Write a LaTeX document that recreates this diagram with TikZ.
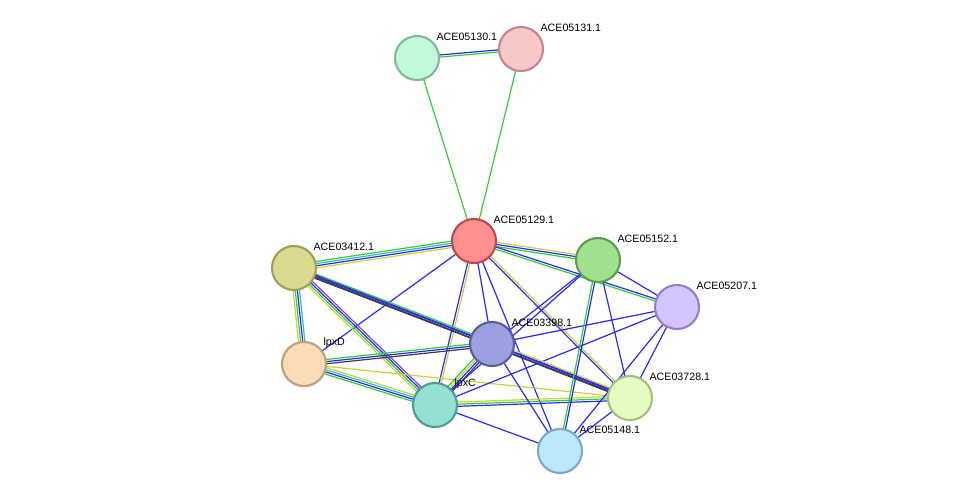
\documentclass[tikz,border=0pt]{standalone}
\usepackage{fontspec}
\setmainfont{Liberation Sans}
\usetikzlibrary{calc,backgrounds}
\definecolor{lgreen}{HTML}{33CC33}
\definecolor{lblue}{HTML}{2A2AF0}
\definecolor{lyellow}{HTML}{C4D23C}
\definecolor{lcyan}{HTML}{30B8D8}
\definecolor{ldark}{HTML}{3A3A58}
\definecolor{lpurple}{HTML}{8844CC}
% protein node: name, x, y, fill hex, border hex, text
\newcommand{\prot}[6]{%
  \definecolor{#1fill}{HTML}{#4}\definecolor{#1line}{HTML}{#5}%
  \node[prot, fill=#1fill, draw=#1line] (#1) at (#2,#3) {};
  \node[lab] (#1-l) at ($(#1)+(18,-21)$) {#6};}
% edge of parallel coloured lines: from, to, count, colours
\newcommand{\edge}[4]{%
  \foreach \c [count=\i] in {#4} {
    \pgfmathsetmacro\o{(\i-1-(#3-1)/2)*1.6}
    \draw[\c, line width=0.9pt] ($(#1)!\o pt!90:(#2)$) -- ($(#2)!\o pt!-90:(#1)$);
  }}
\begin{document}
\begin{tikzpicture}[x=0.75pt, y=-0.75pt,
    prot/.style={circle, minimum size=33, inner sep=0, line width=1.6pt},
    lab/.style={anchor=west, inner sep=1pt, font=\fontsize{8}{9.6}\selectfont}]
  \useasboundingbox (0,0) rectangle (975,497);
  \prot{n5130}{417}{58}{C0FAD8}{80B898}{ACE05130.1}
  \prot{n5131}{521}{49}{F8C8C8}{C08888}{ACE05131.1}
  \prot{n5129}{474}{241}{FF9090}{C04848}{ACE05129.1}
  \prot{n3412}{294}{268}{DCDA90}{A09E58}{ACE03412.1}
  \prot{n5152}{598}{260}{A0E090}{5C9C50}{ACE05152.1}
  \prot{n5207}{677}{307}{D4C4FC}{9880C0}{ACE05207.1}
  \prot{n3398}{492}{344}{9CA0E0}{5C5E98}{ACE03398.1}
  \prot{lpxD}{304}{364}{FCDCB8}{C0A078}{lpxD}
  \prot{lpxC}{435}{405}{94E0D4}{509C90}{lpxC}
  \prot{n3728}{630}{398}{E4FCC0}{A4C080}{ACE03728.1}
  \prot{n5148}{560}{451}{BCE8FC}{80A8C4}{ACE05148.1}
  \begin{scope}[on background layer]
    \edge{n5130}{n5131}{2}{lgreen,lblue}
    \edge{n5130}{n5129}{1}{lgreen}
    \edge{n5131}{n5129}{1}{lgreen}
    \edge{n5129}{n3412}{4}{lgreen,lcyan,lblue,lyellow}
    \edge{n5129}{n5152}{3}{lgreen,lblue,lyellow}
    \edge{n5129}{n5207}{2}{lgreen,lblue}
    \edge{n5129}{lpxD}{1}{lblue}
    \edge{n5129}{lpxC}{2}{lblue,lyellow}
    \edge{n5129}{n3398}{1}{lblue}
    \edge{n5129}{n3728}{2}{lblue,lyellow}
    \edge{n5129}{n5148}{1}{lblue}
    \edge{n3412}{lpxD}{4}{lyellow,lgreen,lblue,lcyan}
    \edge{n3412}{lpxC}{4}{lyellow,lgreen,lblue,lpurple}
    \edge{n3412}{n3398}{3}{ldark,lblue,lgreen}
    \edge{n3412}{n3728}{2}{ldark,lblue}
    \edge{lpxD}{n3398}{3}{ldark,lblue,lgreen}
    \edge{lpxD}{lpxC}{4}{lgreen,lblue,lcyan,lyellow}
    \edge{lpxD}{n3728}{1}{lyellow}
    \edge{lpxC}{n3398}{4}{ldark,lblue,lyellow,lgreen}
    \edge{lpxC}{n3728}{3}{lblue,lgreen,lyellow}
    \edge{lpxC}{n5148}{1}{lblue}
    \edge{lpxC}{n5152}{1}{lblue}
    \edge{lpxC}{n5207}{1}{lblue}
    \edge{n3398}{n5152}{1}{lblue}
    \edge{n3398}{n5207}{1}{lblue}
    \edge{n3398}{n3728}{3}{ldark,lblue,lyellow}
    \edge{n3398}{n5148}{1}{lblue}
    \edge{n5152}{n5207}{1}{lblue}
    \edge{n5152}{n3728}{1}{lblue}
    \edge{n5152}{n5148}{2}{lgreen,lblue}
    \edge{n5207}{n3728}{1}{lblue}
    \edge{n5207}{n5148}{1}{lblue}
    \edge{n3728}{n5148}{1}{lblue}
  \end{scope}
\end{tikzpicture}
\end{document}
